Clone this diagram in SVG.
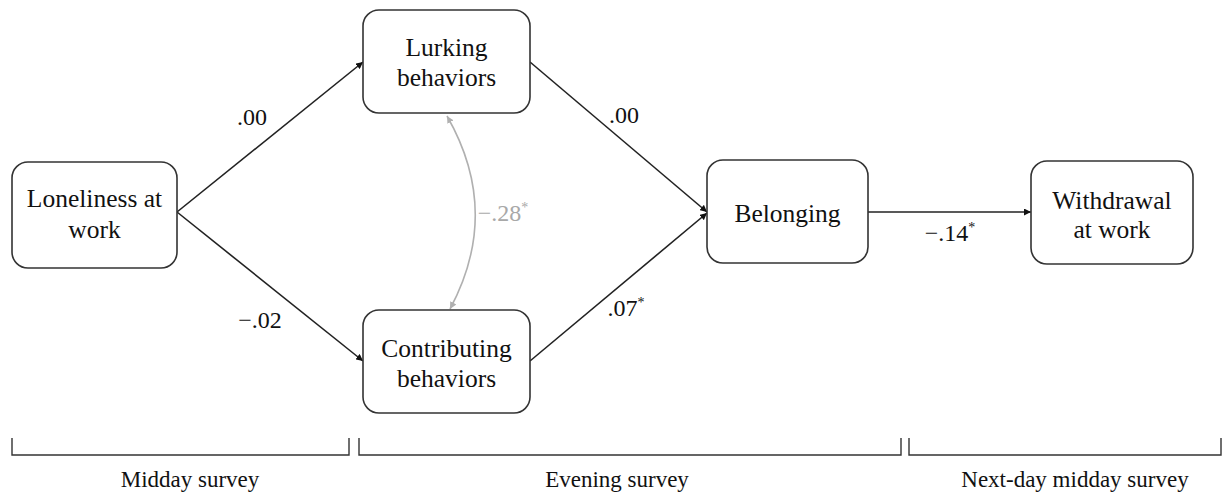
<svg xmlns="http://www.w3.org/2000/svg" width="1224" height="493" viewBox="0 0 1224 493">
  <style>
    .box { fill: #fff; stroke: #333; stroke-width: 1.6; }
    .node { font-family: "Liberation Serif", "Times New Roman", serif; font-size: 25.5px; fill: #111; text-anchor: middle; }
    .coef { font-family: "Liberation Serif", "Times New Roman", serif; font-size: 24px; fill: #111; text-anchor: middle; }
    .sup { font-size: 14px; }
    .path { stroke: #222; stroke-width: 1.6; fill: none; marker-end: url(#arrow); }
    .cov { stroke: #b0b0b0; stroke-width: 1.6; fill: none; marker-start: url(#arrowGrayStart); marker-end: url(#arrowGray); }
    .gray { fill: #a8a8a8; }
    .bracket { stroke: #333; stroke-width: 1.4; fill: none; }
    .wave { font-family: "Liberation Serif", "Times New Roman", serif; font-size: 23px; fill: #111; text-anchor: middle; }
  </style>
  <defs>
    <marker id="arrow" viewBox="0 0 10 10" refX="10" refY="5" markerWidth="7" markerHeight="7" markerUnits="userSpaceOnUse" orient="auto">
      <path d="M0,0 L10,5 L0,10 z" fill="#111"/>
    </marker>
    <marker id="arrowGray" viewBox="0 0 10 10" refX="10" refY="5" markerWidth="7" markerHeight="7" markerUnits="userSpaceOnUse" orient="auto">
      <path d="M0,0 L10,5 L0,10 z" fill="#b0b0b0"/>
    </marker>
    <marker id="arrowGrayStart" viewBox="0 0 10 10" refX="0" refY="5" markerWidth="7" markerHeight="7" markerUnits="userSpaceOnUse" orient="auto">
      <path d="M10,0 L0,5 L10,10 z" fill="#b0b0b0"/>
    </marker>
  </defs>
  <rect width="1224" height="493" fill="#fff"/>

  <!-- connectors -->
  <g id="connectors">
    <line class="path" x1="177" y1="212" x2="363" y2="62"/>
    <line class="path" x1="177" y1="212" x2="363" y2="361"/>
    <line class="path" x1="530" y1="62" x2="707" y2="212"/>
    <line class="path" x1="530" y1="361" x2="707" y2="213"/>
    <line class="path" x1="868" y1="212" x2="1031" y2="212"/>
    <path class="cov" d="M447,116 Q502,212 450,309"/>
  </g>

  <!-- path coefficients -->
  <g id="coefficients">
    <text class="coef" x="252" y="125">.00</text>
    <text class="coef" x="260" y="328">−.02</text>
    <text class="coef" x="624" y="123">.00</text>
    <text class="coef" x="626" y="316">.07<tspan class="sup" dy="-9">*</tspan></text>
    <text class="coef" x="950" y="241">−.14<tspan class="sup" dy="-9">*</tspan></text>
    <text class="coef gray" x="503" y="221">−.28<tspan class="sup" dy="-9">*</tspan></text>
  </g>

  <g id="loneliness">
    <rect class="box" x="12" y="162" width="165" height="106" rx="16"/>
    <text class="node" x="94.5" y="207">Loneliness at</text>
    <text class="node" x="94.5" y="238">work</text>
  </g>

  <g id="lurking">
    <rect class="box" x="363" y="10" width="167" height="103" rx="16"/>
    <text class="node" x="446.5" y="56">Lurking</text>
    <text class="node" x="446.5" y="86">behaviors</text>
  </g>

  <g id="contributing">
    <rect class="box" x="363" y="310" width="167" height="103" rx="16"/>
    <text class="node" x="446.5" y="357">Contributing</text>
    <text class="node" x="446.5" y="387">behaviors</text>
  </g>

  <g id="belonging">
    <rect class="box" x="707" y="160" width="161" height="103" rx="16"/>
    <text class="node" x="787.5" y="222">Belonging</text>
  </g>

  <g id="withdrawal">
    <rect class="box" x="1031" y="161" width="162" height="103" rx="16"/>
    <text class="node" x="1112" y="209">Withdrawal</text>
    <text class="node" x="1112" y="238">at work</text>
  </g>

  <!-- survey timing brackets -->
  <g id="midday">
    <path class="bracket" d="M12,438 V455 H349 V438"/>
    <text class="wave" x="190" y="487">Midday survey</text>
  </g>
  <g id="evening">
    <path class="bracket" d="M359,438 V455 H901 V438"/>
    <text class="wave" x="617" y="487">Evening survey</text>
  </g>
  <g id="nextday">
    <path class="bracket" d="M909,438 V455 H1221 V438"/>
    <text class="wave" x="1075" y="487">Next-day midday survey</text>
  </g>
</svg>
